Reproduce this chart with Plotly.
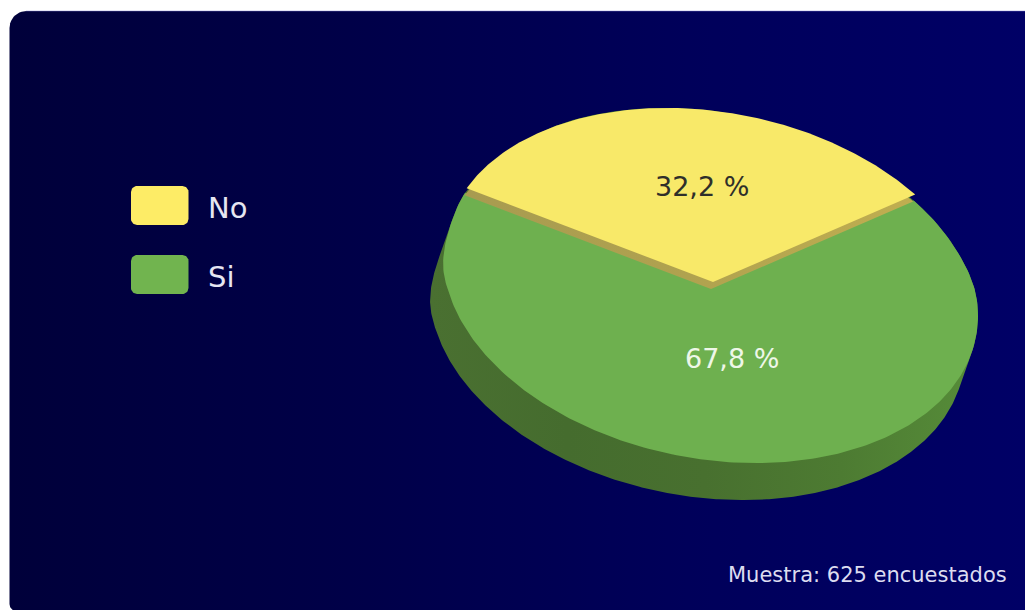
import numpy as np
import plotly.graph_objects as go

categories = ["No", "Si"]
values = [32.2, 67.8]
sample_note = "Muestra: 625 encuestados"

W, H = 1025, 610
CX, CY = 710.5, 285.5
A, SKEW, D = 267.5, 30.0, 175.0
START = -156.5
TIP_SHIFT = (2.5, -3.5)
ARC_SHIFT = (1.5, 0.0)
SIDE_DROP = (-13.0, 37.0)
RIM_DROP = (-2.0, 7.0)


def rim(deg):
    t = np.radians(deg)
    return CX + A * np.cos(t), CY + SKEW * np.cos(t) + D * np.sin(t)


def step(v, a, b):
    s = np.clip((v - a) / (b - a), 0, 1)
    return s * s * (3 - 2 * s)


def lower_rim(deg):
    """Outline of the base disc: the perspective flattens it under the raised slice."""
    x, y = rim(deg)
    d = (np.asarray(deg) + 180) % 360 - 180
    left = (11 * step(d, 165, 190) * (d > 0)
            + (11 - 6.5 * step(d, -170, -156.5)) * (1 - step(d, -150, -120)) * (d <= 0))
    right = 6 * (1 - step(d, -24, 0)) * step(d, -90, -60) * (d <= 0)
    return x, y + left + right


def sector(start, sweep, arc_shift=(0, 0), tip_shift=(0, 0), outline=rim):
    deg = np.linspace(start, start + sweep, 240)
    x, y = outline(deg)
    x, y = x + arc_shift[0], y + arc_shift[1]
    return np.r_[CX + tip_shift[0], x, CX + tip_shift[0]], np.r_[CY + tip_shift[1], y, CY + tip_shift[1]]


def extruded_outline(drop):
    deg = np.linspace(0, 360, 721)
    x, y = lower_rim(deg)
    dx, dy = np.gradient(x), np.gradient(y)
    outward = dy * drop[0] - dx * drop[1] > 0
    return x + outward * drop[0], y + outward * drop[1]


def rounded(x0, y0, x1, y1, rs):
    rtl, rtr, rbr, rbl = rs
    xs, ys = [], []
    for cx, cy, r, a0 in [(x1 - rtr, y0 + rtr, rtr, -90), (x1 - rbr, y1 - rbr, rbr, 0),
                          (x0 + rbl, y1 - rbl, rbl, 90), (x0 + rtl, y0 + rtl, rtl, 180)]:
        a = np.radians(np.linspace(a0, a0 + 90, 12))
        xs += list(cx + r * np.cos(a))
        ys += list(cy + r * np.sin(a))
    return xs + xs[:1], ys + ys[:1]


def poly(x, y, color=None, grad=None, name=None):
    kw = dict(x=x, y=y, mode="lines", fill="toself", line=dict(width=0),
              hoverinfo="skip", showlegend=False, name=name)
    if grad:
        stops = [[i / (len(grad) - 1), c] for i, c in enumerate(grad)]
        kw["fillgradient"] = dict(type="horizontal", colorscale=stops)
    else:
        kw["fillcolor"] = color
    return go.Scatter(**kw)


sweep_no = values[0] / sum(values) * 360
sweep_si = values[1] / sum(values) * 360

fig = go.Figure()
px, py = rounded(9.5, 11, W + 1, H + 1, (17, 0, 0, 7))
fig.add_trace(poly(px, py, grad=["#00003a", "#000048", "#00005a", "#000066"], name="fondo"))
sx, sy = extruded_outline(SIDE_DROP)
fig.add_trace(poly(sx, sy, grad=["#4a7031", "#456c2e", "#48702f", "#4d7b32", "#568c39"], name="lado"))
gx, gy = sector(START + sweep_no, sweep_si, outline=lower_rim)
fig.add_trace(poly(gx, gy, color="#6eb04f", name=categories[1]))
rx, ry = sector(START, sweep_no,
                (ARC_SHIFT[0] + RIM_DROP[0], ARC_SHIFT[1] + RIM_DROP[1]),
                (TIP_SHIFT[0] + RIM_DROP[0], TIP_SHIFT[1] + RIM_DROP[1]))
fig.add_trace(poly(rx, ry, grad=["#a89b50", "#b0a24f", "#c0ae50"], name="borde"))
yx, yy = sector(START, sweep_no, ARC_SHIFT, TIP_SHIFT)
fig.add_trace(poly(yx, yy, color="#f8e969", name=categories[0]))

for i, color in enumerate(["#fdec66", "#71b44f"]):
    top = 186 + i * 69
    lx, ly = rounded(131, top, 188.5, top + 39, (6, 6, 6, 6))
    fig.add_trace(poly(lx, ly, color=color, name=f"leyenda {categories[i]}"))

font = "DejaVu Sans"
annotations = [
    dict(x=206, y=207.5, text=categories[0], xanchor="left", font=dict(size=29, color="#e6e6f2")),
    dict(x=206, y=276.5, text=categories[1], xanchor="left", font=dict(size=29, color="#e6e6f2")),
    dict(x=702, y=186, text=f"{values[0]:.1f} %".replace(".", ","), font=dict(size=27, color="#2f2f2a")),
    dict(x=732, y=358, text=f"{values[1]:.1f} %".replace(".", ","), font=dict(size=27, color="#eef7e8")),
    dict(x=1009, y=575, text=sample_note, xanchor="right", font=dict(size=21, color="#dcdcf0")),
]
for a in annotations:
    a.update(xref="x", yref="y", showarrow=False, yanchor="middle")
    a["font"]["family"] = font

fig.update_layout(
    width=W, height=H, margin=dict(l=0, r=0, t=0, b=0),
    paper_bgcolor="white", plot_bgcolor="white", showlegend=False,
    xaxis=dict(range=[0, W], visible=False, fixedrange=True),
    yaxis=dict(range=[H, 0], visible=False, fixedrange=True),
    annotations=annotations,
    shapes=[dict(type="line", x0=26, x1=W, y0=11, y1=11, xref="x", yref="y", layer="above",
                 line=dict(width=1.2, color="rgba(130,130,210,0.45)"))],
)
fig.write_html("out.html", config={"displayModeBar": False},
               post_script="document.body.style.margin='0';document.body.style.overflow='hidden';")
